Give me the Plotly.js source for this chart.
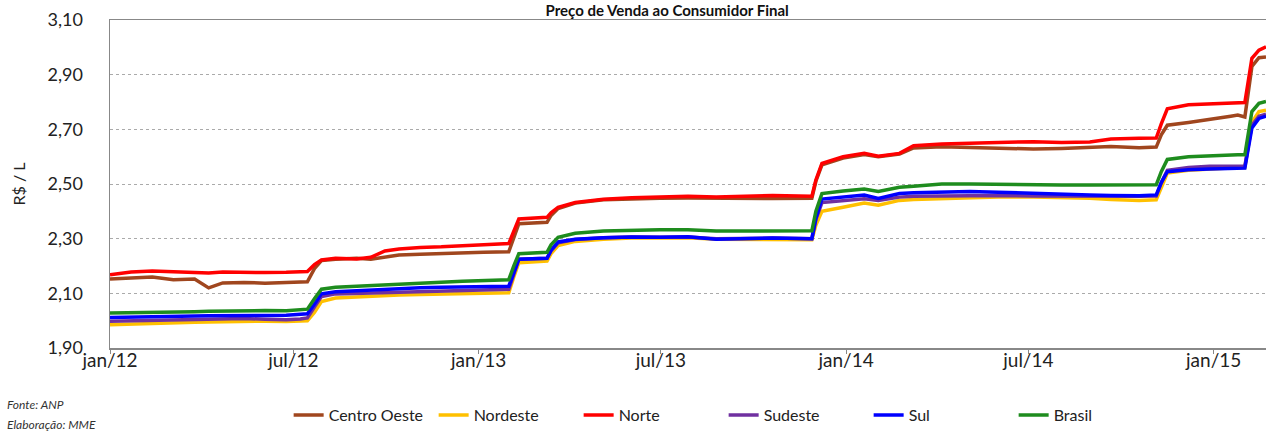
<!DOCTYPE html>
<html>
<head>
<meta charset="utf-8">
<script src="https://cdn.plot.ly/plotly-3.0.1.min.js"></script>
<style>
  html, body { margin: 0; padding: 0; background: #fff; }
  #chart { width: 1266px; height: 432px; }
</style>
</head>
<body>
<div id="chart"></div>
<script>
// Dates of the observations
const dates = [
  '2012-01-01','2012-01-22','2012-02-12','2012-03-04','2012-03-25','2012-04-08','2012-04-22',
  '2012-05-13','2012-06-03','2012-06-24','2012-07-08','2012-07-15','2012-07-22','2012-07-29',
  '2012-08-12','2012-09-02','2012-09-16','2012-09-30','2012-10-14','2012-11-04','2012-11-25',
  '2012-12-16','2013-01-06','2013-01-31','2013-02-05','2013-02-10','2013-03-10','2013-03-14',
  '2013-03-21','2013-04-07','2013-05-05','2013-06-02','2013-06-30','2013-07-28','2013-08-25',
  '2013-09-22','2013-10-20','2013-11-28','2013-12-02','2013-12-08','2013-12-29','2014-01-19',
  '2014-02-02','2014-02-23','2014-03-09','2014-04-06','2014-05-04','2014-06-01','2014-07-06',
  '2014-08-03','2014-08-31','2014-09-21','2014-10-19','2014-11-05','2014-11-10','2014-11-16',
  '2014-12-07','2014-12-28','2015-01-18','2015-01-25','2015-02-01','2015-02-08','2015-02-15',
  '2015-02-22'
];

const centroOeste = [
  2.152,2.155,2.160,2.150,2.152,2.120,2.138,
  2.140,2.137,2.140,2.142,2.142,2.190,2.220,
  2.225,2.228,2.225,2.232,2.240,2.243,2.246,
  2.248,2.250,2.252,2.300,2.355,2.360,2.385,
  2.410,2.430,2.442,2.446,2.448,2.449,2.448,
  2.446,2.447,2.448,2.510,2.570,2.595,2.608,
  2.600,2.610,2.632,2.636,2.634,2.630,2.628,
  2.630,2.634,2.637,2.633,2.635,2.680,2.715,
  2.725,2.738,2.748,2.752,2.745,2.930,2.962,
  2.965
];
const nordeste = [
  1.985,1.988,1.990,1.992,1.994,1.995,1.996,
  1.997,1.998,1.997,1.998,2.000,2.030,2.070,
  2.083,2.087,2.090,2.092,2.094,2.096,2.098,
  2.099,2.100,2.102,2.160,2.212,2.218,2.245,
  2.275,2.290,2.298,2.302,2.302,2.303,2.298,
  2.298,2.298,2.296,2.350,2.400,2.415,2.430,
  2.422,2.440,2.443,2.446,2.450,2.452,2.452,
  2.450,2.448,2.443,2.440,2.442,2.490,2.540,
  2.550,2.555,2.558,2.560,2.560,2.725,2.765,
  2.770
];
const norte = [
  2.168,2.178,2.182,2.178,2.175,2.174,2.178,
  2.176,2.176,2.177,2.178,2.180,2.205,2.222,
  2.228,2.226,2.232,2.255,2.262,2.268,2.270,
  2.275,2.278,2.282,2.330,2.372,2.378,2.395,
  2.415,2.432,2.444,2.450,2.452,2.455,2.452,
  2.454,2.458,2.455,2.515,2.575,2.600,2.612,
  2.602,2.612,2.640,2.646,2.650,2.652,2.655,
  2.652,2.654,2.665,2.667,2.668,2.720,2.775,
  2.790,2.794,2.796,2.797,2.798,2.960,2.990,
  3.002
];
const sudeste = [
  1.998,2.000,2.002,2.003,2.004,2.005,2.006,
  2.008,2.005,2.003,2.006,2.010,2.050,2.088,
  2.098,2.100,2.103,2.105,2.106,2.108,2.110,
  2.111,2.112,2.115,2.170,2.225,2.228,2.255,
  2.285,2.297,2.303,2.306,2.305,2.306,2.300,
  2.302,2.302,2.300,2.370,2.432,2.438,2.446,
  2.440,2.452,2.455,2.457,2.458,2.458,2.456,
  2.455,2.455,2.455,2.455,2.456,2.505,2.550,
  2.560,2.565,2.566,2.567,2.566,2.715,2.748,
  2.755
];
const sul = [
  2.012,2.014,2.016,2.015,2.017,2.018,2.019,
  2.020,2.019,2.020,2.022,2.025,2.060,2.098,
  2.106,2.110,2.113,2.116,2.118,2.120,2.122,
  2.123,2.124,2.126,2.175,2.225,2.228,2.258,
  2.288,2.298,2.303,2.306,2.305,2.307,2.298,
  2.300,2.302,2.300,2.375,2.445,2.452,2.460,
  2.447,2.465,2.468,2.472,2.473,2.470,2.465,
  2.462,2.460,2.458,2.457,2.460,2.505,2.545,
  2.552,2.555,2.557,2.558,2.558,2.705,2.740,
  2.748
];
const brasil = [
  2.028,2.030,2.032,2.033,2.033,2.034,2.035,
  2.036,2.037,2.036,2.038,2.042,2.080,2.115,
  2.122,2.126,2.130,2.133,2.135,2.138,2.141,
  2.144,2.147,2.150,2.200,2.245,2.250,2.278,
  2.305,2.320,2.328,2.332,2.333,2.333,2.328,
  2.328,2.329,2.329,2.400,2.465,2.474,2.482,
  2.473,2.488,2.492,2.500,2.500,2.498,2.497,
  2.496,2.496,2.496,2.497,2.497,2.545,2.590,
  2.600,2.604,2.606,2.607,2.607,2.765,2.795,
  2.802
];

const seriesNames = ['Centro Oeste','Nordeste','Norte','Sudeste','Sul','Brasil'];
const seriesValues = [centroOeste, nordeste, norte, sudeste, sul, brasil];
const seriesColors = ['#A0461E','#FFC000','#FF0000','#7030A0','#0000FF','#1E8C1E'];

const tickDates = ['2012-01-01','2012-07-01','2013-01-01','2013-07-01','2014-01-01','2014-07-01','2015-01-01'];
const tickLabels = ['jan/12','jul/12','jan/13','jul/13','jan/14','jul/14','jan/15'];

const traces = seriesNames.map((n, i) => ({
  type: 'scatter', mode: 'lines', name: n,
  x: dates, y: seriesValues[i],
  line: { color: seriesColors[i], width: 3.5 }
}));

const FONT = 'Lato, "Open Sans", sans-serif';

const layout = {
  width: 1266, height: 432,
  margin: { l: 110, r: 0, t: 20, b: 84 },
  paper_bgcolor: '#fff', plot_bgcolor: '#fff',
  separators: ', ',
  showlegend: true,
  font: { family: FONT, color: '#222' },
  title: {
    text: '<b>Preço de Venda ao Consumidor Final</b>',
    font: { family: FONT, size: 15, color: '#111' },
    xref: 'container', x: 0.527, xanchor: 'center',
    yref: 'container', y: 0.976, yanchor: 'middle',
    pad: { t: 0, b: 0 }
  },
  xaxis: {
    type: 'date',
    range: ['2012-01-01', '2015-02-22'],
    tickvals: tickDates, ticktext: tickLabels,
    tickfont: { family: FONT, size: 19, color: '#222' },
    showgrid: false,
    showline: true, linecolor: '#888', linewidth: 1.5, mirror: true,
    ticks: 'outside', ticklen: 4, tickcolor: '#888',
    ticklabelstandoff: -9,
    zeroline: false
  },
  yaxis: {
    range: [1.9, 3.1],
    tick0: 1.9, dtick: 0.2, tickformat: '.2f',
    tickfont: { family: FONT, size: 18, color: '#222' },
    showgrid: true, gridcolor: '#aaa', griddash: 'dot', gridwidth: 1,
    showline: true, linecolor: '#888', linewidth: 1.5, mirror: true,
    ticks: '', ticklen: 0,
    ticklabelstandoff: 22,
    zeroline: false,
    title: { text: 'R$ / L', font: { family: FONT, size: 16, color: '#222' }, standoff: 18 }
  },
  legend: {
    orientation: 'h',
    xref: 'container', yref: 'container',
    x: 0.228, xanchor: 'left',
    y: 0.0, yanchor: 'bottom',
    font: { family: FONT, size: 16, color: '#222' },
    itemwidth: 30,
    entrywidth: 100,
    tracegroupgap: 0,
    bgcolor: 'rgba(0,0,0,0)'
  },
  annotations: [
    { text: '<i>Fonte: ANP</i>', xref: 'paper', yref: 'paper', x: -0.091, y: -0.172,
      xanchor: 'left', yanchor: 'middle', showarrow: false,
      font: { family: FONT, size: 12, color: '#333' } },
    { text: '<i>Elaboração: MME</i>', xref: 'paper', yref: 'paper', x: -0.091, y: -0.234,
      xanchor: 'left', yanchor: 'middle', showarrow: false,
      font: { family: FONT, size: 12, color: '#333' } }
  ]
};

Plotly.newPlot('chart', traces, layout, { displayModeBar: false, staticPlot: true });
</script>
</body>
</html>
